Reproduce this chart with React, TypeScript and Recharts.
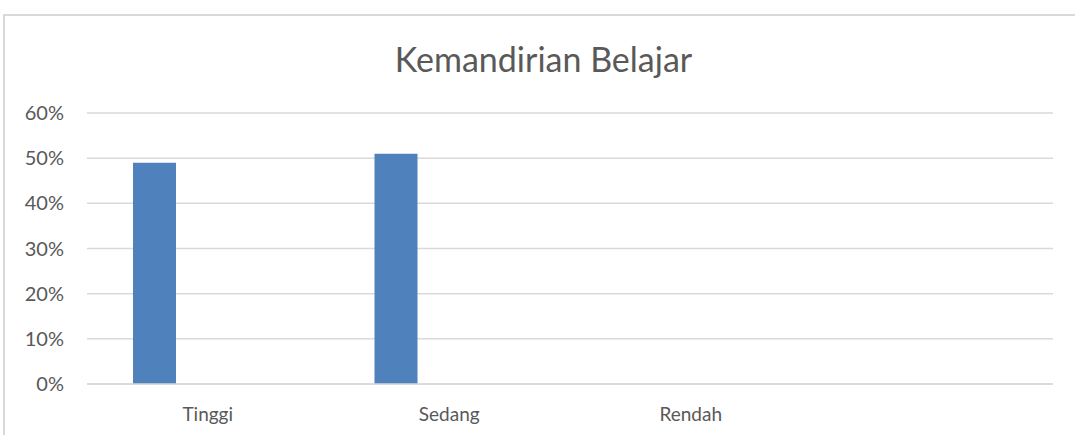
import React from 'react';
import { BarChart, Bar, XAxis, YAxis, CartesianGrid } from 'recharts';

const categories = ['Tinggi', 'Sedang', 'Rendah', ''];
const seriesValues = [0.49, 0.51, 0, null];
const seriesTwo = [null, null, null, null];
const yTicks = [0, 0.1, 0.2, 0.3, 0.4, 0.5, 0.6];

const chartData = categories.map((name, i) => ({
  name,
  value: seriesValues[i],
  other: seriesTwo[i],
}));

const font = 'Lato, "Noto Sans", sans-serif';

export default function App() {
  return (
    <div style={{ position: 'absolute', left: 0, top: 0, width: 1075, height: 435, overflow: 'hidden', background: '#fff' }}>
      <div
        style={{
          position: 'absolute',
          left: 0,
          top: 38,
          width: 1087,
          textAlign: 'center',
          fontFamily: font,
          fontSize: 34,
          color: '#595959',
        }}
      >
        Kemandirian Belajar
      </div>
      <div style={{ position: 'absolute', left: 0, top: 0 }}>
        <BarChart
          width={1075}
          height={435}
          data={chartData}
          margin={{ top: 113, right: 22, bottom: 21, left: 0 }}
          barSize={43}
          barGap={63}
        >
          <CartesianGrid vertical={false} stroke="#d9d9d9" strokeWidth={1.5} />
          <XAxis
            dataKey="name"
            height={30}
            axisLine={{ stroke: '#d9d9d9', strokeWidth: 1.5 }}
            tickLine={false}
            tickSize={0}
            tickMargin={24}
            tick={{ fill: '#595959', fontSize: 19, fontFamily: font }}
          />
          <YAxis
            width={87}
            domain={[0, 0.6]}
            ticks={yTicks}
            axisLine={false}
            tickLine={false}
            tickSize={0}
            tickMargin={23}
            tickFormatter={(v: number) => `${Math.round(v * 100)}%`}
            tick={{ fill: '#595959', fontSize: 20, fontFamily: font }}
          />
          <Bar dataKey="value" fill="#4f81bd" isAnimationActive={false} />
          <Bar dataKey="other" fill="#c0504d" isAnimationActive={false} />
        </BarChart>
      </div>
      <div
        style={{
          position: 'absolute',
          zIndex: 2,
          left: 3,
          top: 14,
          width: 1200,
          height: 600,
          borderTop: '2px solid #d9d9d9',
          borderLeft: '2px solid #d9d9d9',
          pointerEvents: 'none',
        }}
      />
    </div>
  );
}
